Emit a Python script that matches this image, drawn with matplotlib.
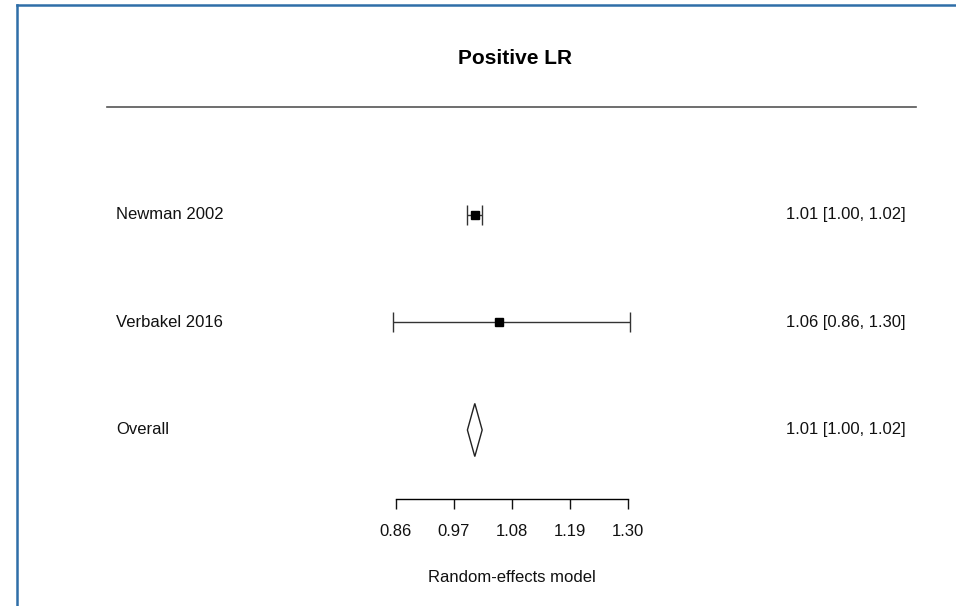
import matplotlib
matplotlib.use("Agg")
import matplotlib.pyplot as plt
from matplotlib.patches import Polygon
from matplotlib.lines import Line2D
import matplotlib.transforms as mtransforms

plt.rcParams['font.family'] = ['Liberation Sans', 'DejaVu Sans']

# study estimates
studies = ["Newman 2002", "Verbakel 2016"]
est = [1.01, 1.055]
lo = [0.996, 0.855]
hi = [1.023, 1.305]
annot = ["1.01 [1.00, 1.02]", "1.06 [0.86, 1.30]"]

# pooled estimate
overall_label = "Overall"
overall_est = 1.01
overall_lo = 0.996
overall_hi = 1.024
overall_annot = "1.01 [1.00, 1.02]"

ticks = [0.86, 0.97, 1.08, 1.19, 1.30]
tick_labels = ["0.86", "0.97", "1.08", "1.19", "1.30"]

W, H = 956, 606
fig = plt.figure(figsize=(W / 100, H / 100), dpi=100)

# axes bottom edge = x axis line
ax_bottom_px = 499
ax = fig.add_axes([0, (H - ax_bottom_px) / H, 1, ax_bottom_px / H])
px_per_unit = 527.3
x0 = 0.86 - 395.7 / px_per_unit
ax.set_xlim(x0, x0 + W / px_per_unit)
ax.set_ylim(0.358, 5.0)

rows = [3, 2]
overall_row = 1

for r, e, l, h in zip(rows, est, lo, hi):
    ax.errorbar([e], [r], xerr=[[e - l], [h - e]], fmt='s', color='black',
                ecolor='#333333', elinewidth=1, capsize=7, capthick=1,
                markersize=6)

half_h = 0.247
diamond = Polygon([(overall_lo, overall_row), (overall_est, overall_row + half_h),
                   (overall_hi, overall_row), (overall_est, overall_row - half_h)],
                  closed=True, facecolor='white', edgecolor='#222222', linewidth=1)
ax.add_patch(diamond)

trans = mtransforms.blended_transform_factory(ax.transAxes, ax.transData)
labels = studies + [overall_label]
annots = annot + [overall_annot]
for r, lab, an in zip(rows + [overall_row], labels, annots):
    ax.text(116 / W, r, lab, transform=trans, ha='left', va='center', fontsize=12, color='#111111')
    ax.text(906 / W, r, an, transform=trans, ha='right', va='center', fontsize=12, color='#111111')

# header line
ax.plot([107 / W, 916 / W], [4.0, 4.0], transform=trans, color='#555555', linewidth=1.2)

for s in ['top', 'right', 'left']:
    ax.spines[s].set_visible(False)
ax.spines['bottom'].set_bounds(ticks[0], ticks[-1])
ax.spines['bottom'].set_linewidth(1)
ax.set_yticks([])
ax.set_xticks(ticks)
ax.set_xticklabels(tick_labels, fontsize=12)
ax.tick_params(axis='x', length=7, width=1, pad=11, colors='#111111')
ax.patch.set_alpha(0)

fig.text(515 / W, 1 - 59 / H, "Positive LR", ha='center', va='center',
         fontsize=15, fontweight='bold')
fig.text(512 / W, 1 - 577 / H, "Random-effects model", ha='center', va='center', fontsize=12,
         color='#111111')

# screenshot border (top and left edges)
border = '#2f6ea8'
fig.add_artist(Line2D([17 / W, 1], [1 - 5 / H, 1 - 5 / H], transform=fig.transFigure,
                      color=border, linewidth=1.8))
fig.add_artist(Line2D([17 / W, 17 / W], [0, 1 - 5 / H], transform=fig.transFigure,
                      color=border, linewidth=1.8))

fig.savefig("out.png", dpi=100)
